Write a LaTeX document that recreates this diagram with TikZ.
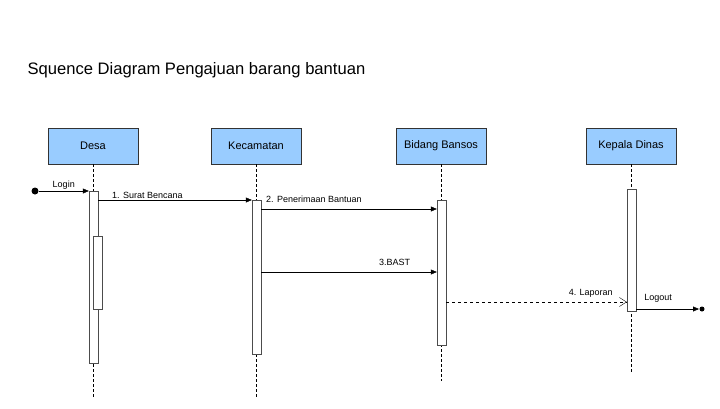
\documentclass[tikz,border=0pt]{standalone}
\usepackage{fontspec}
\setmainfont{Liberation Sans}
\usetikzlibrary{arrows.meta,positioning,calc}
\definecolor{boxblue}{RGB}{153,204,255}

\begin{document}
\begin{tikzpicture}[x=1pt,y=-1pt,
		actor/.style={draw=black!80, fill=boxblue, minimum width=90pt, minimum height=36pt, inner sep=0pt, font=\fontsize{11}{13}\selectfont},
		act/.style={draw=black!70, fill=white, minimum width=9pt, inner sep=0pt},
		life/.style={dash pattern=on 3pt off 2pt, black},
		msg/.style={-{Triangle[length=6pt,width=5pt]}, black},
		lbl/.style={font=\fontsize{9}{11}\selectfont, inner sep=1.5pt}]
	\useasboundingbox (0,0) rectangle (720,408);
	\node[anchor=west, font=\fontsize{16.6}{19}\selectfont] (title) at (24,70) {Squence Diagram Pengajuan barang bantuan};
	
	% objects
	\node[actor] (desa) at (93,146) {Desa};
	\node[actor] (kec) at (256,146) {Kecamatan};
	\node[actor] (bansos) at (441,146) {Bidang Bansos};
	\node[actor] (kadis) at (631,146) {Kepala Dinas};
	
	% lifelines
	\coordinate (desaend) at (93.5,398);
	\coordinate (kecend) at (256.5,398);
	\coordinate (bansosend) at (441.5,381);
	\coordinate (kadisend) at (631.5,372);
	\draw[life] (desa.south -| desaend) -- (desaend);
	\draw[life] (kec.south -| kecend) -- (kecend);
	\draw[life] (bansos.south -| bansosend) -- (bansosend);
	\draw[life] (kadis.south -| kadisend) -- (kadisend);
	
	% activations
	\node[act, minimum height=172pt] (actdesa) at (93.5,277) {};
	\node[act, minimum height=73pt] (actdesa2) at (98,272.5) {};
	\node[act, minimum height=154pt] (actkec) at (256.5,277) {};
	\node[act, minimum height=145pt] (actbansos) at (441.5,272.5) {};
	\node[act, minimum height=122pt] (actkadis) at (631.5,250) {};
	
	% messages
	\node[circle, fill, inner sep=0pt, minimum size=7pt] (start) at (35,191) {};
	\coordinate (stop) at (702,309);
	\draw[msg] (start) -- node[lbl, above] {Login} (actdesa.west |- start);
	\draw[msg] (actdesa.east |- 0,200) -- node[lbl, above, pos=0.32] {1. Surat Bencana} (actkec.west |- 0,200);
	\draw[msg] (actkec.east |- 0,209) -- node[lbl, above, pos=0.30, yshift=5pt] {2. Penerimaan Bantuan} (actbansos.west |- 0,209);
	\draw[msg] (actkec.east |- 0,272) -- node[lbl, above, pos=0.76, yshift=5pt] {3.BAST} (actbansos.west |- 0,272);
	\draw[dashed, -{Straight Barb[length=7pt,width=9pt]}] (actbansos.east |- 0,302) -- node[lbl, above, pos=0.80, yshift=3pt] {4. Laporan} (actkadis.west |- 0,302);
	\draw[msg] (actkadis.east |- stop) -- node[lbl, above, pos=0.35, yshift=5pt] {Logout} ([xshift=-3pt]stop);
	\node[circle, fill, inner sep=0pt, minimum size=5pt] (stopdot) at (stop) {};
\end{tikzpicture}
\end{document}
